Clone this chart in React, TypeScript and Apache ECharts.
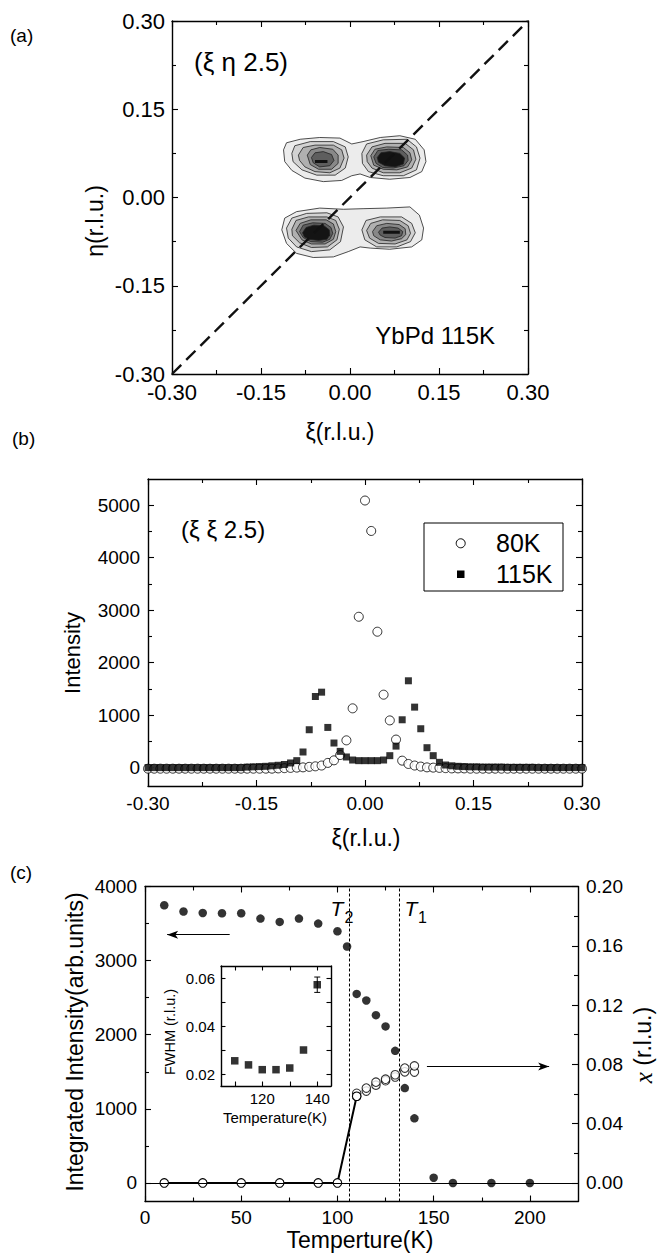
import React, { useEffect, useRef } from "react";
import * as echarts from "echarts";

const FONT = "'Liberation Sans', Arial, Helvetica, sans-serif";

// ---------- Panel (a): contour polygons [xi, eta] ----------
const OUTER_TOP = [[-0.112,0.081],[-0.107,0.093],[-0.084,0.099],[-0.051,0.102],[-0.017,0.101],[0.003,0.091],[0.022,0.095],[0.051,0.102],[0.084,0.105],[0.110,0.099],[0.125,0.081],[0.128,0.061],[0.121,0.044],[0.101,0.034],[0.067,0.031],[0.034,0.034],[0.017,0.040],[0.003,0.037],[-0.014,0.029],[-0.045,0.027],[-0.076,0.033],[-0.098,0.046],[-0.110,0.061]];
const UL_L2 = [[-0.098,0.075],[-0.093,0.088],[-0.067,0.095],[-0.028,0.095],[-0.008,0.086],[-0.003,0.069],[-0.008,0.050],[-0.025,0.038],[-0.056,0.038],[-0.081,0.047],[-0.096,0.061]];
const UL_L3 = [[-0.087,0.072],[-0.079,0.085],[-0.059,0.089],[-0.028,0.089],[-0.014,0.081],[-0.010,0.067],[-0.017,0.050],[-0.034,0.042],[-0.059,0.044],[-0.076,0.052],[-0.085,0.063]];
const UL_L4 = [[-0.072,0.072],[-0.066,0.081],[-0.051,0.085],[-0.029,0.082],[-0.020,0.072],[-0.020,0.058],[-0.031,0.048],[-0.053,0.048],[-0.067,0.056]];
const UL_L5 = [[-0.065,0.068],[-0.059,0.076],[-0.045,0.078],[-0.031,0.073],[-0.027,0.063],[-0.034,0.054],[-0.051,0.052],[-0.062,0.059]];
const UL_DASH = [[-0.059,0.061],[-0.038,0.061]];
const UR_L2 = [[0.020,0.075],[0.028,0.091],[0.056,0.098],[0.096,0.099],[0.112,0.086],[0.118,0.067],[0.112,0.047],[0.090,0.037],[0.056,0.037],[0.031,0.044],[0.021,0.058]];
const UR_L3 = [[0.028,0.072],[0.037,0.086],[0.059,0.092],[0.093,0.092],[0.107,0.081],[0.111,0.065],[0.104,0.050],[0.084,0.042],[0.056,0.042],[0.037,0.050],[0.029,0.061]];
const UR_L4 = [[0.035,0.071],[0.042,0.082],[0.062,0.086],[0.090,0.085],[0.101,0.076],[0.104,0.064],[0.097,0.052],[0.079,0.047],[0.056,0.048],[0.040,0.055]];
const UR_L5 = [[0.040,0.069],[0.047,0.080],[0.065,0.082],[0.087,0.081],[0.097,0.072],[0.098,0.063],[0.091,0.054],[0.073,0.050],[0.055,0.051],[0.044,0.058]];
const UR_L6 = [[0.046,0.068],[0.052,0.076],[0.067,0.078],[0.084,0.075],[0.092,0.067],[0.090,0.057],[0.076,0.052],[0.059,0.054],[0.048,0.060]];
const OUTER_BOT = [[-0.115,-0.055],[-0.110,-0.035],[-0.090,-0.024],[-0.051,-0.018],[-0.011,-0.020],[0.022,-0.019],[0.062,-0.018],[0.101,-0.016],[0.117,-0.030],[0.124,-0.052],[0.121,-0.072],[0.104,-0.084],[0.067,-0.088],[0.034,-0.086],[0.017,-0.084],[-0.003,-0.092],[-0.028,-0.101],[-0.062,-0.102],[-0.090,-0.095],[-0.107,-0.078]];
const LL_L2 = [[-0.107,-0.052],[-0.098,-0.035],[-0.073,-0.027],[-0.039,-0.026],[-0.020,-0.033],[-0.011,-0.050],[-0.016,-0.075],[-0.034,-0.089],[-0.065,-0.092],[-0.090,-0.084],[-0.104,-0.069]];
const LL_L3 = [[-0.098,-0.054],[-0.091,-0.039],[-0.070,-0.033],[-0.039,-0.033],[-0.024,-0.039],[-0.018,-0.054],[-0.022,-0.072],[-0.038,-0.084],[-0.065,-0.085],[-0.085,-0.077],[-0.097,-0.065]];
const LL_L4 = [[-0.091,-0.056],[-0.084,-0.044],[-0.066,-0.038],[-0.040,-0.038],[-0.028,-0.045],[-0.024,-0.058],[-0.028,-0.071],[-0.042,-0.079],[-0.065,-0.079],[-0.081,-0.072]];
const LL_L5 = [[-0.085,-0.058],[-0.079,-0.047],[-0.063,-0.043],[-0.042,-0.044],[-0.032,-0.051],[-0.029,-0.061],[-0.034,-0.071],[-0.046,-0.076],[-0.066,-0.075],[-0.079,-0.068]];
const LL_L6 = [[-0.080,-0.060],[-0.074,-0.051],[-0.061,-0.047],[-0.044,-0.048],[-0.035,-0.055],[-0.034,-0.064],[-0.039,-0.071],[-0.053,-0.073],[-0.069,-0.071],[-0.077,-0.067]];
const LR_L2 = [[0.020,-0.055],[0.027,-0.039],[0.051,-0.033],[0.087,-0.033],[0.104,-0.044],[0.110,-0.060],[0.102,-0.075],[0.079,-0.084],[0.045,-0.084],[0.025,-0.072]];
const LR_L3 = [[0.028,-0.056],[0.035,-0.044],[0.055,-0.038],[0.084,-0.039],[0.098,-0.048],[0.102,-0.061],[0.096,-0.072],[0.076,-0.079],[0.048,-0.078],[0.033,-0.069]];
const LR_L4 = [[0.038,-0.058],[0.045,-0.048],[0.062,-0.044],[0.083,-0.046],[0.093,-0.053],[0.094,-0.063],[0.087,-0.070],[0.070,-0.074],[0.051,-0.072],[0.040,-0.065]];
const LR_L5 = [[0.048,-0.059],[0.054,-0.052],[0.067,-0.050],[0.081,-0.052],[0.089,-0.058],[0.087,-0.065],[0.076,-0.069],[0.059,-0.068],[0.051,-0.064]];
const LR_DASH = [[0.056,-0.059],[0.084,-0.059]];
const LEVEL_FILLS = ["#ececec", "#d2d2d2", "#b0b0b0", "#888888", "#5e5e5e", "#141414"];
const DIAGONAL = [[-0.3, -0.3], [0.3, 0.3]];

// ---------- Panel (b) ----------
const XI_B = [-0.3,-0.2914,-0.2829,-0.2743,-0.2657,-0.2571,-0.2486,-0.24,-0.2314,-0.2229,-0.2143,-0.2057,-0.1971,-0.1886,-0.18,-0.1714,-0.1629,-0.1543,-0.1457,-0.1371,-0.1286,-0.12,-0.1114,-0.1029,-0.0943,-0.0857,-0.0771,-0.0686,-0.06,-0.0514,-0.0429,-0.0343,-0.0257,-0.0171,-0.0086,0,0.0086,0.0171,0.0257,0.0343,0.0429,0.0514,0.06,0.0686,0.0771,0.0857,0.0943,0.1029,0.1114,0.12,0.1286,0.1371,0.1457,0.1543,0.1629,0.1714,0.18,0.1886,0.1971,0.2057,0.2143,0.2229,0.2314,0.24,0.2486,0.2571,0.2657,0.2743,0.2829,0.2914,0.3];
const I_80K = [-20,-20,-20,-20,-20,-20,-20,-20,-20,-20,-20,-20,-20,-20,-20,-20,-20,-20,-20,-20,-20,-15,-10,-5,0,5,15,25,40,90,139,240,520,1130,2875,5090,4510,2590,1390,900,535,133,70,40,20,5,0,-5,-10,-15,-15,-15,-20,-20,-20,-20,-20,-20,-20,-20,-20,-20,-20,-20,-20,-20,-20,-20,-20,-20,-20];
const I_115K = [0,0,0,0,0,0,0,0,0,0,0,0,0,0,0,0,10,15,20,25,35,45,60,89,133,298,722,1355,1438,766,469,310,203,145,133,133,133,133,145,228,410,912,1655,1153,741,380,228,101,50,35,25,20,15,15,10,10,10,10,5,5,5,5,5,0,0,0,0,0,0,0,0];

// ---------- Panel (c) ----------
const T_INT = [10,20,30,40,50,60,70,80,90,100,105,110,115,120,125,130,135,140,150,160,180,200];
const INT_VAL = [3747,3662,3643,3639,3639,3567,3522,3567,3500,3396,3190,2551,2462,2264,2112,1783,1280,872,71,0,0,0];
const T_X_LINE = [10,30,50,70,90,100,110];
const X_LINE = [0,0,0,0,0,0,0.0585];
const T_X_SET = [110,115,120,125,130,135,140];
const X_SET1 = [0.0585,0.062,0.066,0.069,0.0715,0.075,0.0748];
const X_SET2 = [0.0605,0.064,0.068,0.070,0.073,0.0775,0.079];
const T_MARKS = [106, 132];

// ---------- Inset ----------
const T_FWHM = [110,115,120,125,130,135,140];
const FWHM = [0.0255,0.0238,0.0218,0.0218,0.0225,0.030,0.0572];
const FWHM_ERR = [[140, 0.0540, 0.0604]];

// ---------- tick values ----------
const A_MAJ = [-0.3,-0.15,0,0.15,0.3];
const A_MIN = [-0.225,-0.075,0.075,0.225];
const B_Y_MAJ = [0,1000,2000,3000,4000,5000];
const B_Y_MIN = [500,1500,2500,3500,4500];
const C_X_MAJ = [0,50,100,150,200];
const C_X_MIN = [25,75,125,175];
const C_YL_MAJ = [0,1000,2000,3000,4000];
const C_YL_MIN = [500,1500,2500,3500];
const C_YR_MAJ = [0,0.04,0.08,0.12,0.16,0.2];
const C_YR_MIN = [0.02,0.06,0.1,0.14,0.18];
const IN_X_MAJ = [120,140];
const IN_X_MIN = [110,130];
const IN_Y_MAJ = [0.02,0.04,0.06];
const IN_Y_MIN = [0.03,0.05];

const f2 = (v: number) => (Math.abs(v) < 1e-9 ? 0 : v).toFixed(2);
const fi = (v: number) => String(Math.round(v));

function axisObj(grid: number, position: string, min: number, max: number, ticks: number[], tickLen: number, showLine: boolean, label?: { fmt: (v: number) => string; size: number; margin: number }) {
  return {
    type: "value",
    gridIndex: grid,
    position,
    min,
    max,
    axisLine: { show: showLine, onZero: false, lineStyle: { color: "#000", width: 1.4 } },
    axisTick: { show: true, inside: true, length: tickLen, customValues: ticks, lineStyle: { color: "#000", width: 1.1 } },
    axisLabel: label
      ? { show: true, customValues: ticks, formatter: label.fmt, fontSize: label.size, margin: label.margin, color: "#000", fontFamily: FONT }
      : { show: false },
    splitLine: { show: false },
  };
}

const xAxes: any[] = [];
const yAxes: any[] = [];
function addFrame(list: any[], grid: number, sideA: string, sideB: string, min: number, max: number, maj: number[], mn: number[], len: number, mlen: number, label: any, rB?: { min: number; max: number; maj: number[]; mn: number[]; label: any }) {
  const idx = list.length;
  list.push(axisObj(grid, sideA, min, max, maj, len, true, label));
  list.push(axisObj(grid, sideA, min, max, mn, mlen, false));
  if (rB) {
    list.push(axisObj(grid, sideB, rB.min, rB.max, rB.maj, len, true, rB.label));
    list.push(axisObj(grid, sideB, rB.min, rB.max, rB.mn, mlen, false));
  } else {
    list.push(axisObj(grid, sideB, min, max, maj, len, true));
    list.push(axisObj(grid, sideB, min, max, mn, mlen, false));
  }
  return idx;
}

const AX = addFrame(xAxes, 0, "bottom", "top", -0.3, 0.3, A_MAJ, A_MIN, 6, 4, { fmt: f2, size: 22, margin: 7 });
const AY = addFrame(yAxes, 0, "left", "right", -0.3, 0.3, A_MAJ, A_MIN, 6, 4, { fmt: f2, size: 22, margin: 7 });
const BX = addFrame(xAxes, 1, "bottom", "top", -0.3, 0.3, A_MAJ, A_MIN, 6, 4, { fmt: f2, size: 19, margin: 8 });
const BY = addFrame(yAxes, 1, "left", "right", -350, 5500, B_Y_MAJ, B_Y_MIN, 6, 4, { fmt: fi, size: 19, margin: 8 });
const CX = addFrame(xAxes, 2, "bottom", "top", 0, 225, C_X_MAJ, C_X_MIN, 6, 4, { fmt: fi, size: 19, margin: 6 });
const CY = addFrame(yAxes, 2, "left", "right", -250, 4000, C_YL_MAJ, C_YL_MIN, 6, 4, { fmt: fi, size: 19, margin: 8 }, { min: -0.0125, max: 0.2, maj: C_YR_MAJ, mn: C_YR_MIN, label: { fmt: f2, size: 19, margin: 8 } });
const CYR = CY + 2;
const IX = addFrame(xAxes, 3, "bottom", "top", 105, 145, IN_X_MAJ, IN_X_MIN, 4.5, 4.5, { fmt: fi, size: 15, margin: 5 });
const IY = addFrame(yAxes, 3, "left", "right", 0.015, 0.065, IN_Y_MAJ, IN_Y_MIN, 4.5, 4.5, { fmt: f2, size: 15, margin: 6 });

const CONTOURS: { pts: number[][]; level: number }[] = [
  { pts: OUTER_TOP, level: 0 },
  { pts: UL_L2, level: 1 }, { pts: UL_L3, level: 2 }, { pts: UL_L4, level: 3 }, { pts: UL_L5, level: 4 },
  { pts: UR_L2, level: 1 }, { pts: UR_L3, level: 2 }, { pts: UR_L4, level: 3 }, { pts: UR_L5, level: 4 }, { pts: UR_L6, level: 5 },
  { pts: OUTER_BOT, level: 0 },
  { pts: LL_L2, level: 1 }, { pts: LL_L3, level: 2 }, { pts: LL_L4, level: 3 }, { pts: LL_L5, level: 4 }, { pts: LL_L6, level: 5 },
  { pts: LR_L2, level: 1 }, { pts: LR_L3, level: 2 }, { pts: LR_L4, level: 3 }, { pts: LR_L5, level: 4 },
];

function txt(text: string, x: number, y: number, size: number, align = "left", rot = 0, extra: any = {}) {
  return {
    type: "text",
    x,
    y,
    rotation: rot,
    z: 100,
    style: {
      text,
      fill: "#000",
      fontSize: size,
      fontFamily: FONT,
      align,
      textAlign: align,
      verticalAlign: "middle",
      textVerticalAlign: "middle",
      ...extra,
    },
  };
}

const option: any = {
  animation: false,
  backgroundColor: "#fff",
  grid: [
    { left: 172, top: 21, width: 356, height: 353 },
    { left: 148, top: 479, width: 434, height: 307 },
    { left: 145, top: 886.5, width: 433, height: 315 },
    { left: 221, top: 966, width: 110, height: 120 },
  ],
  xAxis: xAxes,
  yAxis: yAxes,
  series: [
    {
      type: "custom",
      xAxisIndex: AX,
      yAxisIndex: AY,
      data: CONTOURS.map((c) => [c.pts[0][0], c.pts[0][1]]),
      renderItem: (params: any, api: any) => {
        const c = CONTOURS[params.dataIndex];
        return {
          type: "polygon",
          shape: { points: c.pts.map((p) => api.coord(p)) },
          style: { fill: LEVEL_FILLS[c.level], stroke: "#222", lineWidth: 0.8 },
        };
      },
      silent: true,
    },
    { type: "line", xAxisIndex: AX, yAxisIndex: AY, data: UL_DASH, symbol: "none", lineStyle: { color: "#111", width: 3 }, silent: true },
    { type: "line", xAxisIndex: AX, yAxisIndex: AY, data: LR_DASH, symbol: "none", lineStyle: { color: "#111", width: 3 }, silent: true },
    { type: "line", xAxisIndex: AX, yAxisIndex: AY, data: DIAGONAL, symbol: "none", lineStyle: { color: "#111", width: 2.4, type: [13, 7] }, silent: true },
    {
      type: "scatter", name: "80K", xAxisIndex: BX, yAxisIndex: BY,
      data: XI_B.map((x, i) => [x, I_80K[i]]),
      symbol: "circle", symbolSize: 9,
      itemStyle: { color: "#fff", borderColor: "#000", borderWidth: 1 },
      silent: true,
    },
    {
      type: "scatter", name: "115K", xAxisIndex: BX, yAxisIndex: BY,
      data: XI_B.map((x, i) => [x, I_115K[i]]),
      symbol: "rect", symbolSize: 7,
      itemStyle: { color: "#000" },
      silent: true,
    },
    {
      type: "scatter", xAxisIndex: CX, yAxisIndex: CY,
      data: T_INT.map((t, i) => [t, INT_VAL[i]]),
      symbol: "circle", symbolSize: 8.5,
      itemStyle: { color: "#000" },
      silent: true,
      markLine: {
        silent: true,
        symbol: ["none", "none"],
        label: { show: false },
        lineStyle: { color: "#000", width: 1, type: [3, 2] },
        data: [
          ...T_MARKS.map((t) => ({ xAxis: t })),
          { yAxis: 0, lineStyle: { type: "solid", width: 1 } },
          [
            { coord: [44, 3350], symbol: "none", lineStyle: { type: "solid", width: 1 } },
            { coord: [11.5, 3350], symbol: "arrow", symbolSize: [6, 11] },
          ],
        ],
      },
    },
    {
      type: "line", xAxisIndex: CX, yAxisIndex: CYR,
      data: T_X_LINE.map((t, i) => [t, X_LINE[i]]),
      symbol: "circle", symbolSize: 8.5, showSymbol: true,
      lineStyle: { color: "#000", width: 2 },
      itemStyle: { color: "#fff", borderColor: "#000", borderWidth: 1.1 },
      silent: true,
    },
    {
      type: "scatter", xAxisIndex: CX, yAxisIndex: CYR,
      data: T_X_SET.map((t, i) => [t, X_SET1[i]]),
      symbol: "circle", symbolSize: 8.5,
      itemStyle: { color: "#fff", borderColor: "#000", borderWidth: 1.1 },
      silent: true,
      markLine: {
        silent: true,
        symbol: ["none", "none"],
        label: { show: false },
        lineStyle: { color: "#000", width: 1, type: "solid" },
        data: [[
          { coord: [146.5, 0.0785], symbol: "none" },
          { coord: [210, 0.0785], symbol: "arrow", symbolSize: [6, 11] },
        ]],
      },
    },
    {
      type: "scatter", xAxisIndex: CX, yAxisIndex: CYR,
      data: T_X_SET.map((t, i) => [t, X_SET2[i]]),
      symbol: "circle", symbolSize: 8.5,
      itemStyle: { color: "#fff", borderColor: "#000", borderWidth: 1.1 },
      silent: true,
    },
    {
      type: "custom", xAxisIndex: IX, yAxisIndex: IY,
      data: FWHM_ERR,
      renderItem: (params: any, api: any) => {
        const x = api.value(0);
        const p1 = api.coord([x, api.value(1)]);
        const p2 = api.coord([x, api.value(2)]);
        const st = { stroke: "#000", lineWidth: 1 };
        return {
          type: "group",
          children: [
            { type: "line", shape: { x1: p1[0], y1: p1[1], x2: p2[0], y2: p2[1] }, style: st },
            { type: "line", shape: { x1: p1[0] - 3, y1: p1[1], x2: p1[0] + 3, y2: p1[1] }, style: st },
            { type: "line", shape: { x1: p2[0] - 3, y1: p2[1], x2: p2[0] + 3, y2: p2[1] }, style: st },
          ],
        };
      },
      silent: true,
    },
    {
      type: "scatter", xAxisIndex: IX, yAxisIndex: IY,
      data: T_FWHM.map((t, i) => [t, FWHM[i]]),
      symbol: "rect", symbolSize: 7.5,
      itemStyle: { color: "#000" },
      silent: true,
    },
  ],
  graphic: [
    txt("(a)", 10, 35, 19),
    txt("(b)", 12, 438, 19),
    txt("(c)", 10, 872, 19),
    txt("(ξ η 2.5)", 194, 62, 26),
    txt("YbPd 115K", 495, 335, 24, "right"),
    txt("η(r.l.u.)", 95, 221, 23, "center", Math.PI / 2),
    txt("ξ(r.l.u.)", 340, 432, 23, "center"),
    txt("(ξ ξ 2.5)", 181, 529, 24),
    txt("Intensity", 72, 653, 22, "center", Math.PI / 2),
    txt("ξ(r.l.u.)", 366, 838, 23, "center"),
    { type: "rect", z: 90, shape: { x: 424, y: 523, width: 139, height: 68 }, style: { fill: "#fff", stroke: "#000", lineWidth: 1 } },
    { type: "circle", z: 95, shape: { cx: 460.7, cy: 543.3, r: 4.5 }, style: { fill: "#fff", stroke: "#000", lineWidth: 1 } },
    { type: "rect", z: 95, shape: { x: 457, y: 570.5, width: 7.5, height: 7.5 }, style: { fill: "#000" } },
    txt("80K", 496, 543, 25),
    txt("115K", 496, 574, 25),
    txt("Integrated Intensity(arb.units)", 75, 1042, 23, "center", Math.PI / 2),
    txt("Temperture(K)", 360, 1240, 23, "center"),
    txt("{i|x} (r.l.u.)", 643, 1045, 23, "center", Math.PI / 2, {
      rich: { i: { fontStyle: "italic", fontFamily: "'Liberation Serif', 'DejaVu Serif', serif", fontSize: 25, fill: "#000" } },
    }),
    txt("T", 337, 908, 21, "center", 0, { fontStyle: "italic" }),
    txt("2", 344.5, 917, 16, "left"),
    txt("T", 411, 908, 21, "center", 0, { fontStyle: "italic" }),
    txt("1", 418, 917, 16, "left"),
    txt("FWHM (r.l.u.)", 170, 1032, 14.5, "center", Math.PI / 2),
    txt("Temperature(K)", 275, 1117, 15, "center"),
  ],
};

export default function App() {
  const ref = useRef<HTMLDivElement>(null);
  useEffect(() => {
    const chart = echarts.init(ref.current!, null, { renderer: "svg", width: 658, height: 1253 });
    chart.setOption(option);
    return () => chart.dispose();
  }, []);
  return (
    <div
      ref={ref}
      style={{ position: "absolute", left: 0, top: 0, width: 658, height: 1253, background: "#fff" }}
    />
  );
}
